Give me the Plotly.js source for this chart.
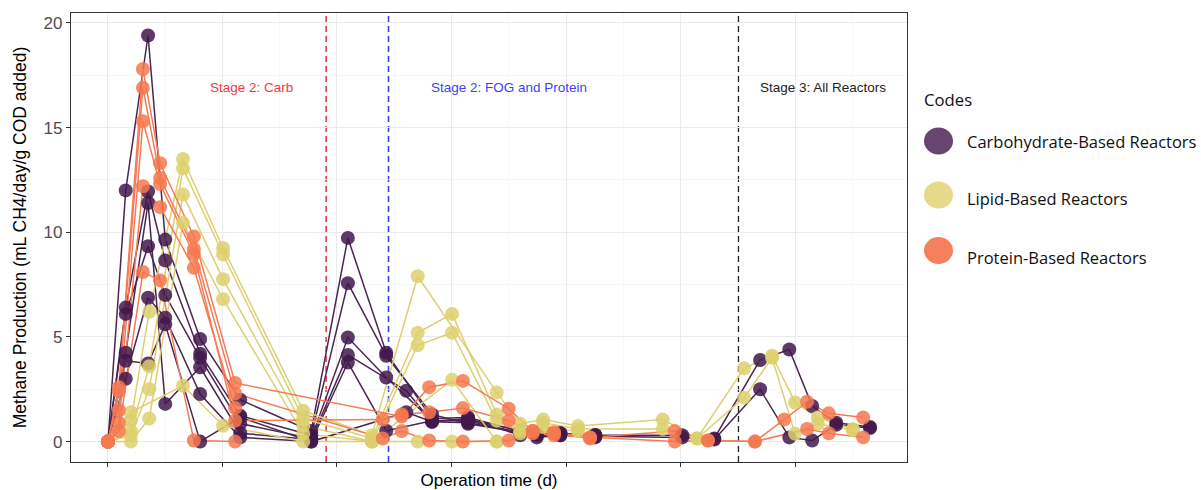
<!DOCTYPE html>
<html>
<head>
<meta charset="utf-8">
<script src="https://cdn.plot.ly/plotly-3.0.1.min.js"></script>
<style>
  html, body { margin: 0; padding: 0; background: #ffffff; }
  #chart { width: 1201px; height: 490px; }
</style>
</head>
<body>
<div id="chart"></div>
<script>
// ---- Reactor groups ----
const categories = ['Carbohydrate-Based Reactors', 'Lipid-Based Reactors', 'Protein-Based Reactors'];

// ---- Carbohydrate-based reactors: sampling days and methane production ----
const carbDays = [0, 3.1, 7.0, 10.0, 16.1, 23.1, 35.5, 41.9, 48.6, 52.1, 56.6, 62.9, 72.0, 74.9, 79.0, 85.1, 100.3, 105.9, 113.9, 119.0, 123.0, 127.2, 133.1];
const carbR1 = [0, 12.0, 19.4, 9.65, 4.9, 2.0, 0.5, 9.73, 4.25, null, 1.1, 1.15, 0.5, null, 0.4, 0.3, 0.3, 0.15, 3.9, 4.4, 1.7, 0.9, 0.7];
const carbR2 = [0, 6.4, 11.95, 8.65, 4.2, 1.24, 0.3, 7.57, 4.1, null, 1.3, 0.85, null, 0.3, 0.3, 0.25, 0.2, 0.1, 2.5, 0.2, 0.05, 0.8, 0.65];
const carbR3 = [0, 6.1, 9.33, 7.0, 4.0, 0.86, 0.15, 4.97, 3.06, null, 1.0, 1.05, null, 0.35, 0.35, 0.3, null, null, null, null, null, null, null];
const carbR4 = [0, 4.25, 11.4, 1.8, 3.55, 0.4, 0.1, 4.14, null, 2.43, 0.95, 0.9, 0.45, null, 0.4, 0.25, null, null, null, null, null, null, null];
const carbR5 = [0, 3.0, 6.87, 5.92, 2.27, 0.2, 0.0, 3.78, 0.52, null, 1.0, 1.0, null, 0.2, 0.3, 0.3, null, null, null, null, null, null, null];
const carbR6 = [0, 3.86, 3.73, 5.6, 0.0, 1.16, 0.0, null, null, 1.4, 0.95, 1.1, 0.3, null, 0.35, 0.2, null, null, null, null, null, null, null];

// ---- Lipid-based reactors ----
const lipidDays = [0, 4.0, 7.2, 13.1, 20.1, 34.1, 46.1, 54.1, 60.1, 67.9, 72.0, 76.0, 82.1, 96.9, 102.9, 111.1, 116.0, 120.0, 124.0, 130.1];
const lipidR1 = [0, 1.0, 6.2, 13.5, 9.25, 1.47, 0.3, 7.9, null, 2.35, 0.85, 1.05, 0.75, 1.05, 0.15, 3.5, 4.1, 1.87, 1.15, 0.6];
const lipidR2 = [0, 0.5, 3.6, 13.05, 8.94, 1.1, 0.15, 5.2, 6.1, 1.3, 0.4, 0.9, 0.6, 0.6, 0.15, 2.1, 4.0, 0.38, 0.85, 0.55];
const lipidR3 = [0, 0.3, 2.5, 11.8, 7.76, 0.76, 0.0, 4.6, 5.2, 1.0, 0.5, 0.7, 0.5, null, null, null, null, null, null, null];
const lipidR4 = [0, 0.0, 1.1, 10.45, 6.8, 0.38, 0.0, null, 2.95, 0.0, null, null, null, null, null, null, null, null, null, null];
const lipidR5 = [0, 1.4, null, 2.67, 0.76, 0.0, 0.0, 0.0, 0.0, 0.0, null, null, null, null, null, null, null, null, null, null];

// ---- Protein-based reactors ----
const proteinDays = [0, 1.9, 6.1, 9.1, 15.0, 22.2, 48.0, 51.3, 56.1, 62.0, 70.0, 74.2, 77.9, 84.2, 99.0, 104.8, 113.0, 118.1, 122.1, 125.9, 131.9];
const proteinR1 = [0, 2.6, 17.8, 13.3, 9.8, 2.8, null, 1.2, 2.6, 2.9, 1.57, 0.5, 0.45, 0.2, 0.5, 0.05, 0.0, 1.05, 1.9, 1.35, 1.15];
const proteinR2 = [0, 2.4, 16.9, 12.6, 9.2, 2.3, 0.15, 0.5, 0.05, 0.0, 0.05, 0.4, 0.3, 0.2, 0.0, 0.05, 0.0, null, 0.6, 0.4, 0.2];
const proteinR3 = [0, 1.5, 15.3, 12.3, 8.95, 1.0, 1.05, 1.3, 1.4, 1.6, 1.0, 0.5, 0.4, 0.15, null, null, null, null, null, null, null];
const proteinR4 = [0, 0.9, 12.2, 11.2, 8.3, 1.6, null, null, null, null, null, null, null, null, null, null, null, null, null, null, null];
const proteinR5 = [0, 0.5, 8.1, 7.7, 0.05, 0.0, null, null, null, null, null, null, null, null, null, null, null, null, null, null, null];

// ---- Feeding stage markers ----
const stageLabels = ['Stage 2: Carb', 'Stage 2: FOG and Protein', 'Stage 3: All Reactors'];
const stageStartDays = [38.1, 49.0, 110.1];
const stageLabelDays = [25.1, 70.0, 124.9];
const stageLabelLevel = 16.9;

// ---- Styling ----
const groupStyle = [
  { line: '#4a2552', marker: '#42184c', key: '#66456f' },
  { line: '#ddd071', marker: '#ddd06c', key: '#e6da8a' },
  { line: '#f57b56', marker: '#f6784f', key: '#f67f5c' }
];
const stageColors = ['#f03a3f', '#3f3ff5', '#222222'];

const groups = [
  { days: carbDays, reactors: [carbR1, carbR2, carbR3, carbR4, carbR5, carbR6] },
  { days: lipidDays, reactors: [lipidR1, lipidR2, lipidR3, lipidR4, lipidR5] },
  { days: proteinDays, reactors: [proteinR1, proteinR2, proteinR3, proteinR4, proteinR5] }
];

const traces = [];
// connecting lines first so that every point sits on top of them
groups.forEach((g, gi) => {
  g.reactors.forEach((vals, ri) => {
    traces.push({
      type: 'scatter', mode: 'lines', x: g.days, y: vals,
      connectgaps: true, hoverinfo: 'skip', showlegend: false,
      name: categories[gi] + ' ' + (ri + 1),
      line: { color: groupStyle[gi].line, width: 1.5 }
    });
  });
});
groups.forEach((g, gi) => {
  g.reactors.forEach((vals, ri) => {
    traces.push({
      type: 'scatter', mode: 'markers', x: g.days, y: vals,
      showlegend: false, name: categories[gi] + ' ' + (ri + 1),
      marker: { color: groupStyle[gi].marker, size: 14, opacity: 0.85, line: { width: 0 } }
    });
  });
});

// plot area in pixels, used to place the key beside it
const W = 1201, H = 490, M = { l: 71, r: 294, t: 13, b: 28 };
const pw = W - M.l - M.r, ph = H - M.t - M.b;
const px2paperX = p => (p - M.l) / pw;
const px2paperY = p => (H - M.b - p) / ph;

const shapes = stageStartDays.map((d, i) => ({
  type: 'line', xref: 'x', yref: 'paper', x0: d, x1: d, y0: 0, y1: 1,
  layer: 'between',
  line: { color: stageColors[i], width: 1.6, dash: '6px,4px' }
}));

const annotations = stageLabels.map((t, i) => ({
  text: t, xref: 'x', yref: 'y', x: stageLabelDays[i], y: stageLabelLevel,
  showarrow: false, xanchor: 'center', yanchor: 'middle',
  font: { family: 'Liberation Sans, Arial, sans-serif', size: 13.5, color: stageColors[i] }
}));

// key: title, coloured dots and labels
const keyDotY = [141, 195, 250.5];
const keyTextY = [141.5, 198.5, 257.5];
annotations.push({
  text: 'Codes', xref: 'paper', yref: 'paper', x: px2paperX(922), y: px2paperY(99.5),
  showarrow: false, xanchor: 'left', yanchor: 'middle',
  font: { family: 'Open Sans, sans-serif', size: 16.7, color: '#111' }
});
categories.forEach((c, i) => {
  shapes.push({
    type: 'circle', xref: 'paper', yref: 'paper',
    xsizemode: 'pixel', ysizemode: 'pixel',
    xanchor: px2paperX(938.5), yanchor: px2paperY(keyDotY[i]),
    x0: -14.5, x1: 14.5, y0: -13.5, y1: 13.5,
    fillcolor: groupStyle[i].key, line: { width: 0 }, layer: 'above'
  });
  annotations.push({
    text: c, xref: 'paper', yref: 'paper', x: px2paperX(965), y: px2paperY(keyTextY[i]),
    showarrow: false, xanchor: 'left', yanchor: 'middle',
    font: { family: 'Open Sans, sans-serif', size: 16.5, color: '#111' }
  });
});

const axisCommon = {
  ticks: 'outside', ticklen: 4, tickwidth: 1, tickcolor: '#333333',
  showgrid: true, gridcolor: '#ebebeb', gridwidth: 1,
  zeroline: false, showline: true, mirror: true,
  linecolor: '#333333', linewidth: 1.1
};

const layout = {
  width: W, height: H, margin: M,
  paper_bgcolor: '#ffffff', plot_bgcolor: '#ffffff',
  font: { family: 'Liberation Sans, Arial, sans-serif', color: '#000000' },
  showlegend: false,
  xaxis: Object.assign({}, axisCommon, {
    range: [-6.46, 139.56], tick0: 0, dtick: 20, showticklabels: false,
    minor: { dtick: 10, showgrid: true, gridcolor: '#f4f4f4', gridwidth: 0.7 },
    title: { text: 'Operation time (d)', font: { size: 17 }, standoff: 10 }
  }),
  yaxis: Object.assign({}, axisCommon, {
    range: [-0.975, 20.475], tick0: 0, dtick: 5,
    tickfont: { size: 17, color: '#4d4d4d' },
    minor: { dtick: 2.5, showgrid: true, gridcolor: '#f4f4f4', gridwidth: 0.7 },
    title: { text: 'Methane Production (mL CH4/day/g COD added)', font: { size: 17.5 }, standoff: 12 }
  }),
  shapes: shapes,
  annotations: annotations
};

Plotly.newPlot('chart', traces, layout, { displayModeBar: false, staticPlot: true });
</script>
</body>
</html>
